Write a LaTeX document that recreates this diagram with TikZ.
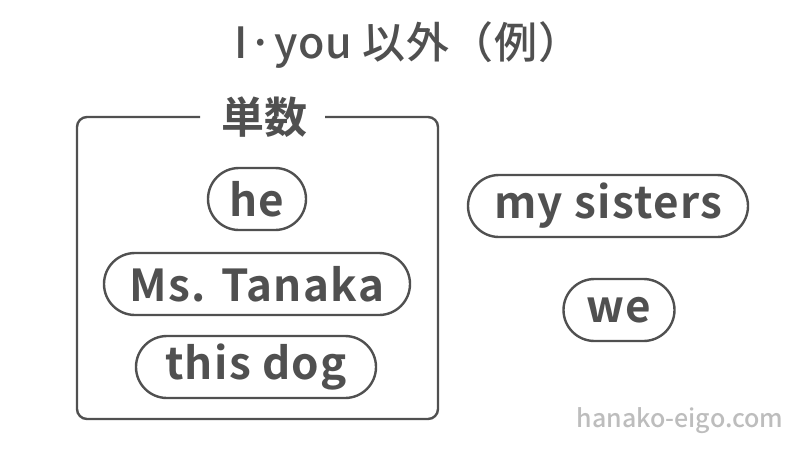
\documentclass[tikz,border=0pt]{standalone}
\usepackage{fontspec}
\setmainfont{Noto Sans CJK JP}
\newfontfamily\jpb[LetterSpace=3]{Noto Sans CJK JP Bold}
\newfontfamily\jpbj{Noto Sans CJK JP Bold}
\newfontfamily\jpt[LetterSpace=2]{Noto Sans CJK JP Medium}
\newfontfamily\jpm{Noto Sans CJK JP Medium}
\definecolor{ink}{HTML}{505050}
\definecolor{wm}{HTML}{BDBDBD}
\begin{document}
\begin{tikzpicture}[x=1pt,y=-1pt,
  pill/.style={draw=ink, line width=2.4pt, rounded corners=31pt, minimum height=62pt, inner sep=0pt, text=ink, font=\jpb\fontsize{44}{44}\selectfont},
  frame/.style={draw=ink, line width=2.4pt, rounded corners=10pt}]
\useasboundingbox (0,0) rectangle (800,450);
\fill[white] (0,0) rectangle (800,450);
\node[text=ink, font=\jpt\fontsize{43}{43}\selectfont] (title) at (408,45) {I·you 以外（例）};
\draw[frame] (200,117) -| (77,419) -| (438,117) -- (325,117);
\node[text=ink, font=\jpbj\fontsize{43}{43}\selectfont] (sg) at (264,117) {単数};
\node[pill, minimum width=98pt] (he) at (257,199) {he};
\node[pill, minimum width=306pt] (ms) at (257,284) {Ms. Tanaka};
\node[pill, minimum width=240pt] (dog) at (256,367) {this dog};
\node[pill, minimum width=280pt] (sis) at (608,206) {my sisters};
\node[pill, minimum width=111pt] (we) at (619,310) {we};
\node[text=wm, font=\jpm\fontsize{25}{25}\selectfont] (wmk) at (680,421) {hanako-eigo.com};
\end{tikzpicture}
\end{document}
